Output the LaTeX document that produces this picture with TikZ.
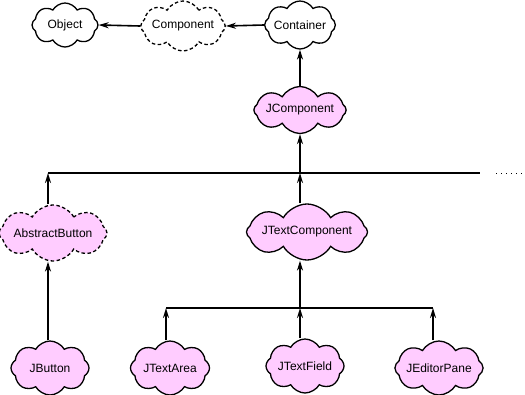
\documentclass[tikz,border=0pt]{standalone}
\usepackage{fontspec}
\setmainfont{Liberation Sans}
\usetikzlibrary{shapes.symbols,arrows.meta}
\definecolor{pinkfill}{RGB}{255,204,255}
\tikzset{
  cls/.style={cloud, cloud puffs=8, cloud puff arc=120, cloud ignores aspect, draw, line width=1.3pt,
    inner sep=0pt, font=\fontsize{12}{14}\selectfont, text=black},
  plain/.style={cls, fill=white},
  pinkcls/.style={cls, fill=pinkfill},
  abstr/.style={dash pattern=on 3.5pt off 2.5pt},
  conn/.style={line width=1.6pt},
  arr/.style={conn, -{Stealth[length=10pt,width=6pt]}},
}
\begin{document}
\begin{tikzpicture}[x=1pt,y=-1pt]
\useasboundingbox (0,0) rectangle (525,394);
\node[plain, minimum width=66pt, minimum height=44pt] (object) at (65,25) {Object};
\node[plain, abstr, minimum width=78pt, minimum height=50pt] (component) at (183,26) {Component};
\node[plain, minimum width=64pt, minimum height=48pt] (container) at (300,25) {Container};
\node[pinkcls, minimum width=86pt, minimum height=47pt] (jcomponent) at (300,110) {JComponent};
\node[pinkcls, abstr, minimum width=108pt, minimum height=56pt] (abstractbutton) at (53,233) {AbstractButton};
\node[pinkcls, minimum width=110pt, minimum height=56pt] (jtextcomponent) at (307,232) {JTextComponent};
\node[pinkcls, minimum width=78pt, minimum height=54pt] (jbutton) at (50,368) {JButton};
\node[pinkcls, minimum width=79pt, minimum height=54pt] (jtextarea) at (170,368) {JTextArea};
\node[pinkcls, minimum width=78pt, minimum height=54pt] (jtextfield) at (305,366) {JTextField};
\node[pinkcls, minimum width=86pt, minimum height=54pt] (jeditorpane) at (439,368) {JEditorPane};

\coordinate (b1l) at (48,173);
\coordinate (b1c) at (300,173);
\coordinate (b1r) at (480,173);
\coordinate (d1) at (496,173);
\coordinate (d2) at (525,173);
\coordinate (b2l) at (166,308);
\coordinate (b2c) at (300,308);
\coordinate (b2r) at (433,308);

\draw[arr] (container.west) -- (component.east);
\draw[arr] (component.west) -- (object.east);
\draw[arr] (jcomponent.north) -- (container.south);
\draw[conn] (b1l) -- (b1r);
\draw[line width=1pt, dash pattern=on 1pt off 4pt] (d1) -- (d2);
\draw[arr] (b1c) -- (jcomponent.south);
\draw[arr] (abstractbutton.north -| b1l) -- (b1l);
\draw[arr] (jtextcomponent.north -| b1c) -- (b1c);
\draw[arr] (jbutton.north -| b1l) -- (abstractbutton.south -| b1l);
\draw[conn] (b2l) -- (b2r);
\draw[arr] (b2c) -- (jtextcomponent.south -| b2c);
\draw[arr] (jtextarea.north -| b2l) -- (b2l);
\draw[arr] (jtextfield.north -| b2c) -- (b2c);
\draw[arr] (jeditorpane.north -| b2r) -- (b2r);
\end{tikzpicture}
\end{document}
